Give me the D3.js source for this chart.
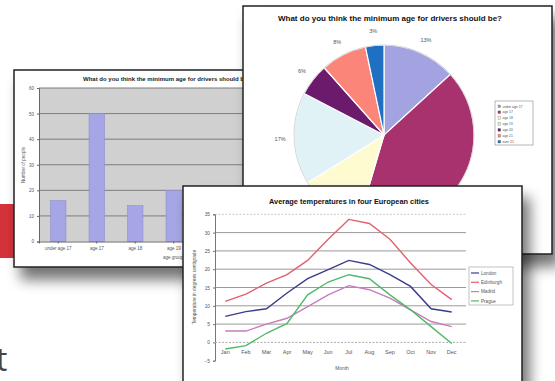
<!DOCTYPE html>
<html><head><meta charset="utf-8">
<script src="https://cdn.jsdelivr.net/npm/d3@7"></script>
<style>
body{margin:0;background:#fff;overflow:hidden}
svg{display:block;font-family:"Liberation Sans",Arial,sans-serif}
</style>
</head><body>
<svg id="c" width="555" height="381"></svg>
<script>
// ---- data ----
const ageGroups = ["under age 17", "age 17", "age 18", "age 19", "age 20", "age 21", "over 21"];
const peopleCounts = [16, 50, 14, 20, 7, 10, 4];
const countTicks = [0, 10, 20, 30, 40, 50, 60];

const months = ["Jan", "Feb", "Mar", "Apr", "May", "Jun", "Jul", "Aug", "Sep", "Oct", "Nov", "Dec"];
const cities = ["London", "Edinburgh", "Madrid", "Prague"];
const london    = [7.1, 8.4, 9.2, 13.5, 17.4, 19.9, 22.4, 21.3, 18.5, 15.3, 9.2, 8.3];
const edinburgh = [11.2, 13.2, 16.2, 18.5, 22.4, 28.2, 33.6, 32.5, 28.2, 21.7, 15.8, 11.7];
const madrid    = [3.1, 3.1, 5.0, 6.6, 9.8, 13.0, 15.5, 14.4, 12.1, 8.9, 5.7, 4.3];
const prague    = [-1.8, -0.9, 2.5, 5.2, 13.0, 16.5, 18.5, 17.4, 13.0, 8.9, 4.3, -0.3];
const tempTicks = [-5, 0, 5, 10, 15, 20, 25, 30, 35];

// ---- styles ----
const pieColors = ["#a3a3e2", "#a8326e", "#fdfbcf", "#e0f2f6", "#6c1a6c", "#fb8578", "#1f70c2"];
const cityColors = ["#3b3b8e", "#e2606f", "#c97bbd", "#4fb86a"];
const barColor = "#a6a6e6";

const svg = d3.select("#c");
const defs = svg.append("defs");
const f = defs.append("filter").attr("id", "sh").attr("x", "-20%").attr("y", "-20%").attr("width", "160%").attr("height", "170%");
f.append("feGaussianBlur").attr("in", "SourceAlpha").attr("stdDeviation", 7);
f.append("feOffset").attr("dx", 7).attr("dy", 12);
f.append("feComponentTransfer").append("feFuncA").attr("type", "linear").attr("slope", 0.55);
const fm = f.append("feMerge"); fm.append("feMergeNode"); fm.append("feMergeNode").attr("in", "SourceGraphic");

function clip(id, x, y, w, h) {
  defs.append("clipPath").attr("id", id).append("rect").attr("x", x).attr("y", y).attr("width", w).attr("height", h);
}

// background decorations
svg.append("rect").attr("x", 0).attr("y", 204).attr("width", 16).attr("height", 54).attr("fill", "#d3323a");
svg.append("text").attr("x", -4).attr("y", 371).attr("font-size", 32).attr("fill", "#444")
  .attr("font-family", "'Open Sans',sans-serif").text("t");

// ================= BAR PANEL =================
const bp = {x: 14, y: 70, w: 290, h: 197};
svg.append("rect").attr("x", bp.x).attr("y", bp.y).attr("width", bp.w).attr("height", bp.h)
  .attr("fill", "#fff").attr("stroke", "#222").attr("stroke-width", 1.5).attr("filter", "url(#sh)");
clip("cb", bp.x + 1, bp.y + 1, bp.w - 2, bp.h - 2);
const bg = svg.append("g").attr("clip-path", "url(#cb)");
const bx = d3.scaleBand().domain(ageGroups).range([39, 308.5]).paddingInner(0.6).paddingOuter(0.3);
const by = d3.scaleLinear().domain([0, 60]).range([241.5, 88]);
bg.append("rect").attr("x", 39).attr("y", by(60)).attr("width", 270).attr("height", by(0) - by(60)).attr("fill", "#d0d0d0");
bg.selectAll(".bgrid").data(countTicks.slice(1)).join("line")
  .attr("x1", 39).attr("x2", 309).attr("y1", d => by(d)).attr("y2", d => by(d))
  .attr("stroke", "#7d7d7d").attr("stroke-width", 1);
bg.selectAll(".bar").data(peopleCounts).join("rect")
  .attr("x", (d, i) => bx(ageGroups[i])).attr("width", bx.bandwidth())
  .attr("y", d => by(d)).attr("height", d => by(0) - by(d))
  .attr("fill", barColor).attr("stroke", "#8d8dcc").attr("stroke-width", 0.6);
const byAxis = bg.append("g").attr("transform", "translate(39,0)").call(d3.axisLeft(by).tickValues(countTicks).tickSize(2).tickPadding(3));
byAxis.select(".domain").attr("stroke", "#666");
byAxis.selectAll("text").attr("font-size", 4.5).attr("fill", "#555");
byAxis.selectAll("line").attr("stroke", "#666");
// only the first four category labels are visible in the reference (the rest lie under the other panels)
const bxAxis = bg.append("g").attr("transform", `translate(0,${by(0)})`)
  .call(d3.axisBottom(bx).tickSize(2).tickPadding(3).tickFormat((d, i) => i < 4 ? d : ""));
bxAxis.select(".domain").attr("stroke", "#666");
bxAxis.selectAll("line").attr("stroke", "#666");
bxAxis.selectAll("text").attr("font-size", 4.5).attr("fill", "#555");
bg.append("text").attr("x", 163).attr("y", 259).attr("font-size", 4.5).attr("fill", "#555").text("age group");
bg.append("text").attr("transform", "translate(25,165) rotate(-90)").attr("text-anchor", "middle")
  .attr("font-size", 4.5).attr("fill", "#555").text("Number of people");
bg.append("text").attr("x", 83).attr("y", 81).attr("font-size", 6).attr("font-weight", "bold").attr("fill", "#222")
  .text("What do you think the minimum age for drivers should be?");

// ================= PIE PANEL =================
const pp = {x: 243, y: 6, w: 309, h: 248};
svg.append("rect").attr("x", pp.x).attr("y", pp.y).attr("width", pp.w).attr("height", pp.h)
  .attr("fill", "#fff").attr("stroke", "#222").attr("stroke-width", 1.5).attr("filter", "url(#sh)");
clip("cp", pp.x + 1, pp.y + 1, pp.w - 2, pp.h - 2);
const pg = svg.append("g").attr("clip-path", "url(#cp)");
pg.append("text").attr("x", 390).attr("y", 21).attr("text-anchor", "middle").attr("font-size", 8)
  .attr("font-weight", "bold").attr("fill", "#111").text("What do you think the minimum age for drivers should be?");
const pie = d3.pie().sort(null).value(d => d)(peopleCounts);
const total = d3.sum(peopleCounts);
const arc = d3.arc().innerRadius(0).outerRadius(90);
const labArc = d3.arc().innerRadius(104).outerRadius(104);
const pc = pg.append("g").attr("transform", "translate(384,135)");
pc.selectAll("path").data(pie).join("path").attr("d", arc)
  .attr("fill", (d, i) => pieColors[i]).attr("stroke", "#fff").attr("stroke-width", 1.2);
pc.append("circle").attr("r", 90).attr("fill", "none").attr("stroke", "#bbb").attr("stroke-width", 0.6);
pc.selectAll(".pl").data(pie).join("text")
  .attr("transform", d => `translate(${labArc.centroid(d)})`)
  .attr("text-anchor", "middle").attr("dy", "0.35em").attr("font-size", 5.5).attr("fill", "#555")
  .text(d => Math.round(d.data / total * 100) + "%");
const pl = pg.append("g").attr("transform", "translate(495,101)");
pl.append("rect").attr("width", 38).attr("height", 44).attr("fill", "#fff").attr("stroke", "#888").attr("stroke-width", 0.6);
const ple = pl.selectAll(".le").data(ageGroups).join("g").attr("transform", (d, i) => `translate(3,${4 + i * 5.9})`);
ple.append("rect").attr("width", 2.6).attr("height", 2.6).attr("fill", (d, i) => pieColors[i]).attr("stroke", "#555").attr("stroke-width", 0.3);
ple.append("text").attr("x", 4.5).attr("y", 2.5).attr("font-size", 3.4).attr("fill", "#555").text(d => d);

// ================= LINE PANEL =================
const lp = {x: 183, y: 186, w: 339, h: 210};
svg.append("rect").attr("x", lp.x).attr("y", lp.y).attr("width", lp.w).attr("height", lp.h)
  .attr("fill", "#fff").attr("stroke", "#222").attr("stroke-width", 1.5).attr("filter", "url(#sh)");
clip("cl", lp.x + 1, lp.y + 1, lp.w - 2, lp.h - 2);
const lg = svg.append("g").attr("clip-path", "url(#cl)");
const lx = d3.scaleBand().domain(months).range([215, 462]);
const ly = d3.scaleLinear().domain([-5, 35]).range([360.7, 214.3]);
lg.selectAll(".lgrid").data(tempTicks.filter(t => t > 0)).join("line")
  .attr("x1", 215).attr("x2", 466).attr("y1", d => ly(d)).attr("y2", d => ly(d))
  .attr("stroke", d => d === 35 ? "#c8c8c8" : "#9a9a9a").attr("stroke-width", 1)
  .attr("stroke-dasharray", d => d === 35 ? "2,1.5" : null);
const lyAxis = lg.append("g").attr("transform", "translate(215,0)").call(d3.axisLeft(ly).tickValues(tempTicks).tickSize(2).tickPadding(3));
lyAxis.select(".domain").attr("stroke", "#777");
lyAxis.selectAll("line").attr("stroke", "#777");
lyAxis.selectAll("text").attr("font-size", 4.8).attr("fill", "#555");
const lxAxis = lg.append("g").attr("transform", `translate(0,${ly(0)})`).call(d3.axisBottom(lx).tickSize(0).tickPadding(8));
lxAxis.select(".domain").attr("stroke", "#aaa").attr("stroke-dasharray", "2,1.5").attr("d", "M215,0H466");
lxAxis.selectAll("text").attr("font-size", 5.5).attr("fill", "#555");
lg.append("text").attr("x", 342).attr("y", 370).attr("text-anchor", "middle").attr("font-size", 4.8).attr("fill", "#555").text("Month");
lg.append("text").attr("transform", "translate(196,287) rotate(-90)").attr("text-anchor", "middle")
  .attr("font-size", 4.8).attr("fill", "#555").text("Temperature in degrees centigrade");
lg.append("text").attr("x", 349).attr("y", 204).attr("text-anchor", "middle").attr("font-size", 7.4)
  .attr("font-weight", "bold").attr("fill", "#111").text("Average temperatures in four European cities");
const series = [london, edinburgh, madrid, prague];
const line = d3.line().x((d, i) => lx(months[i]) + lx.bandwidth() / 2).y(d => ly(d));
lg.selectAll(".ln").data(series).join("path").attr("d", line)
  .attr("fill", "none").attr("stroke", (d, i) => cityColors[i]).attr("stroke-width", 1.4);
const ll = lg.append("g").attr("transform", "translate(469,267)");
ll.append("rect").attr("width", 44).attr("height", 38).attr("fill", "#fff").attr("stroke", "#999").attr("stroke-width", 0.6);
const lle = ll.selectAll(".le").data(cities).join("g").attr("transform", (d, i) => `translate(2,${6 + i * 9.3})`);
lle.append("line").attr("x1", 0).attr("x2", 8).attr("stroke", (d, i) => cityColors[i]).attr("stroke-width", 1.2);
lle.append("text").attr("x", 10).attr("y", 1.6).attr("font-size", 4.6).attr("fill", "#555").text(d => d);
</script>
</body></html>
